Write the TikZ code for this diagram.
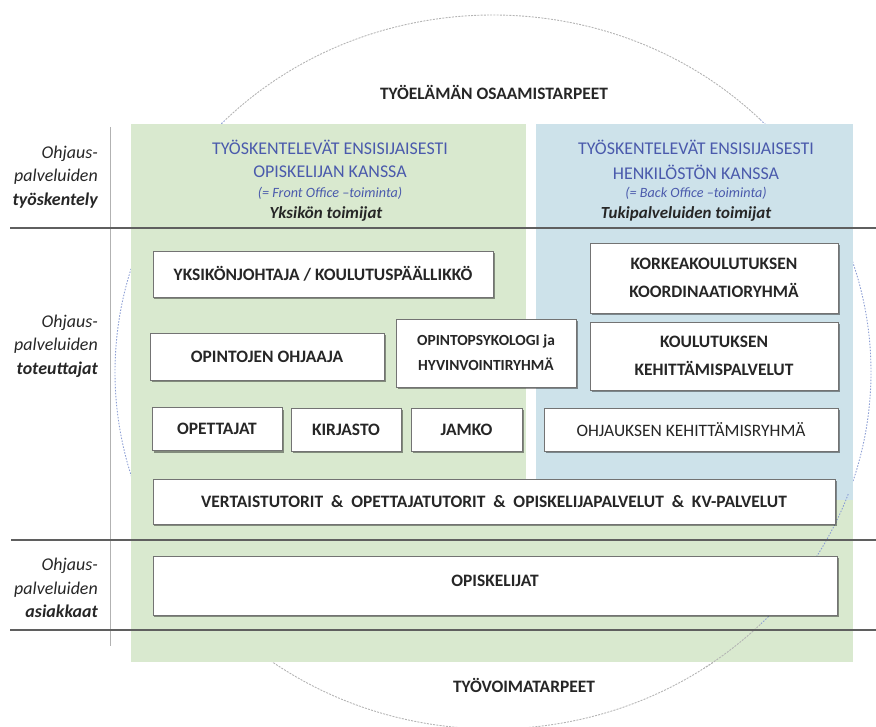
\documentclass[tikz,border=0pt]{standalone}
\usepackage{fontspec}
\setmainfont{Carlito}
\usetikzlibrary{shadows}
\definecolor{panelgreen}{RGB}{217,233,207}
\definecolor{panelblue}{RGB}{205,226,234}
\definecolor{headblue}{RGB}{74,90,172}
\definecolor{linegray}{RGB}{95,95,95}
\definecolor{circblue}{RGB}{140,158,212}
\definecolor{circgray}{RGB}{180,180,180}
\tikzset{
  box/.style={draw=black!55, line width=0.9bp, fill=white, inner sep=0pt, align=center,
    font=\fontsize{17.5}{22}\selectfont\bfseries, text=black!85,
    drop shadow={shadow xshift=1.5bp, shadow yshift=-2bp, opacity=0.4, fill=black}},
  sidelabel/.style={anchor=east, align=right, inner sep=0pt,
    font=\fontsize{18}{23.5}\selectfont\itshape, text=black!85},
  headtxt/.style={inner sep=0pt, font=\fontsize{18}{20}\selectfont, text=headblue},
  officetxt/.style={inner sep=0pt, font=\fontsize{14.2}{16}\selectfont\itshape, text=headblue},
  actortxt/.style={inner sep=0pt, font=\fontsize{17}{20}\selectfont\bfseries\itshape, text=black!85},
  titletxt/.style={inner sep=0pt, font=\fontsize{17.5}{20}\selectfont\bfseries, text=black!85},
  hline/.style={draw=linegray, line width=1.1bp},
  vline/.style={draw=black!30, line width=0.6bp},
  circgrayarc/.style={draw=circgray, line width=0.9bp, dash pattern=on 2bp off 1.2bp},
  circbluearc/.style={draw=circblue, line width=0.9bp, dash pattern=on 1.5bp off 1.5bp},
}
\begin{document}
\begin{tikzpicture}[x=1bp,y=-1bp]
\useasboundingbox (0,0) rectangle (876,727);
% big circle (ellipse) centre (493,372), rx 378, ry 357 -- behind the panels
\draw[circgrayarc] ({493+378*cos(225)},{372+357*sin(225)}) arc[start angle=225, end angle=315, x radius=378, y radius=357];
\draw[circbluearc] ({493+378*cos(315)},{372+357*sin(315)}) arc[start angle=315, end angle=405, x radius=378, y radius=357];
\draw[circgrayarc] ({493+378*cos(45)},{372+357*sin(45)}) arc[start angle=45, end angle=135, x radius=378, y radius=357];
\draw[circbluearc] ({493+378*cos(135)},{372+357*sin(135)}) arc[start angle=135, end angle=225, x radius=378, y radius=357];
% panels
\fill[panelgreen] (131,124) rectangle (526,500);
\fill[panelblue] (536,124) rectangle (853,500);
\fill[panelgreen] (131,500) rectangle (853,662);
% part of the circle that shows through the lower right green
\draw[circbluearc] ({493+378*cos(20)},{372+357*sin(20)}) arc[start angle=20, end angle=45, x radius=378, y radius=357];
\draw[circgrayarc] ({493+378*cos(45)},{372+357*sin(45)}) arc[start angle=45, end angle=56, x radius=378, y radius=357];
% vertical separator
\draw[vline] (110,127) -- (110,646);
% horizontal lines
\draw[hline] (10,228) -- (876,228);
\draw[hline] (11,540) -- (876,540);
\draw[hline, line width=1.5bp] (10,630) -- (876,630);
% titles
\node[titletxt] (top) at (494,92) {TYÖELÄMÄN OSAAMISTARPEET};
\node[titletxt] (bottom) at (524,685) {TYÖVOIMATARPEET};
% side labels
\node[sidelabel] (lab1) at (98,177) {Ohjaus-\\palveluiden\\\textbf{työskentely}};
\node[sidelabel] (lab2) at (98,346) {Ohjaus-\\palveluiden\\\textbf{toteuttajat}};
\node[sidelabel] (lab3) at (98,588) {Ohjaus-\\palveluiden\\\textbf{asiakkaat}};
% panel headers
\node[headtxt] (lh1) at (330,147) {TYÖSKENTELEVÄT ENSISIJAISESTI};
\node[headtxt] (lh2) at (330,172) {OPISKELIJAN KANSSA};
\node[officetxt] (lh3) at (330,193) {(= Front Office –toiminta)};
\node[actortxt] (lh4) at (326,214) {Yksikön toimijat};
\node[headtxt] (rh1) at (696,147) {TYÖSKENTELEVÄT ENSISIJAISESTI};
\node[headtxt] (rh2) at (696,172) {HENKILÖSTÖN KANSSA};
\node[officetxt] (rh3) at (696,193) {(= Back Office –toiminta)};
\node[actortxt] (rh4) at (686,214) {Tukipalveluiden toimijat};
% boxes
\node[box, minimum width=340bp, minimum height=46bp] (b1) at (323,274) {YKSIKÖNJOHTAJA / KOULUTUSPÄÄLLIKKÖ};
\node[box, minimum width=234bp, minimum height=47bp] (b2) at (267,356.5) {OPINTOJEN OHJAAJA};
\node[box, minimum width=180bp, minimum height=68bp, font=\fontsize{15.5}{25}\selectfont\bfseries] (b3) at (486,353) {OPINTOPSYKOLOGI ja\\HYVINVOINTIRYHMÄ};
\node[box, minimum width=130bp, minimum height=43bp] (b4) at (217,429) {OPETTAJAT};
\node[box, minimum width=110bp, minimum height=43bp] (b5) at (346,429.5) {KIRJASTO};
\node[box, minimum width=111bp, minimum height=43bp] (b6) at (466.5,429.5) {JAMKO};
\node[box, minimum width=248bp, minimum height=70bp, font=\fontsize{17.5}{28}\selectfont\bfseries] (b7) at (714,278) {KORKEAKOULUTUKSEN\\KOORDINAATIORYHMÄ};
\node[box, minimum width=248bp, minimum height=68bp, font=\fontsize{17.5}{28}\selectfont\bfseries] (b8) at (714,356) {KOULUTUKSEN\\KEHITTÄMISPALVELUT};
\node[box, minimum width=294bp, minimum height=43bp, font=\fontsize{17.5}{22}\selectfont] (b9) at (691,429.5) {OHJAUKSEN KEHITTÄMISRYHMÄ};
\node[box, minimum width=682bp, minimum height=45bp] (b10) at (494,501.5) {VERTAISTUTORIT \ \& \ OPETTAJATUTORIT \ \& \ OPISKELIJAPALVELUT \ \& \ KV-PALVELUT};
\node[box, minimum width=684bp, minimum height=59bp, text depth=10bp] (b11) at (495,585.5) {OPISKELIJAT};
\end{tikzpicture}
\end{document}
